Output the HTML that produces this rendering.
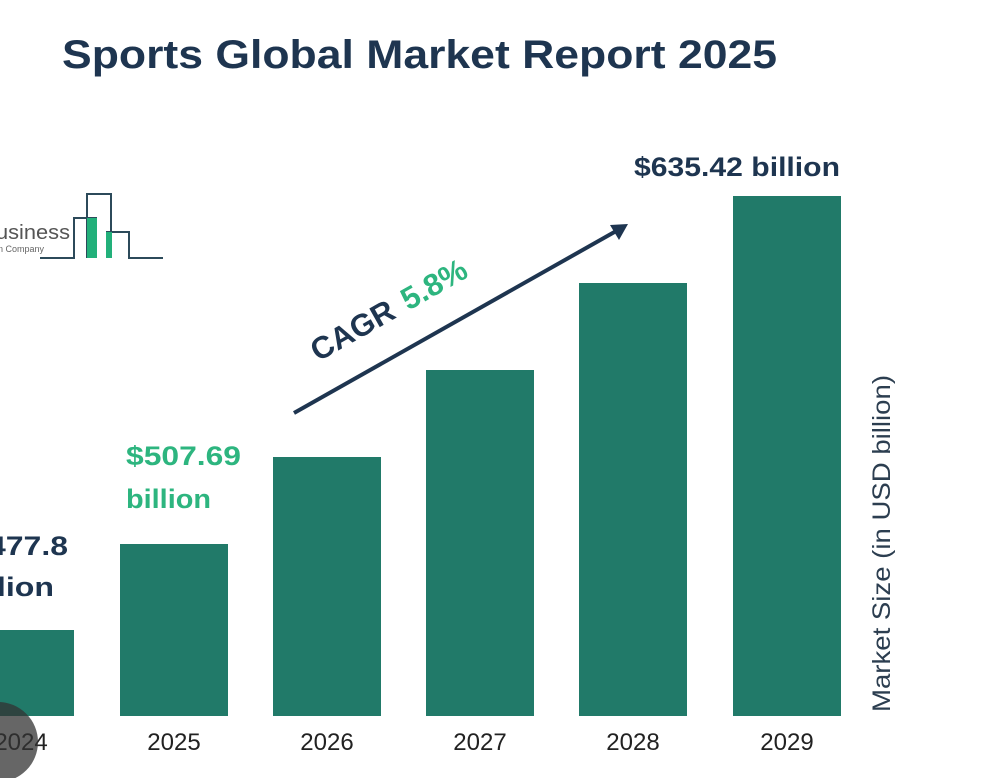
<!DOCTYPE html>
<html><head><style>
body{margin:0;width:982px;height:778px;background:#fff;overflow:hidden;font-family:"Liberation Sans",sans-serif;}
</style></head><body>
<svg width="982" height="778" xmlns="http://www.w3.org/2000/svg" font-family="Liberation Sans, sans-serif">
<text x="62" y="68" font-size="40" font-weight="bold" fill="#1e3550" textLength="715" lengthAdjust="spacingAndGlyphs">Sports Global Market Report 2025</text>
<!-- logo -->
<text x="-4" y="239" font-size="20" fill="#555" textLength="74" lengthAdjust="spacingAndGlyphs">usiness</text>
<text x="-2" y="252" font-size="9" fill="#666">n Company</text>
<g fill="none" stroke="#2c4a5a" stroke-width="2">
<polyline points="40,258 74,258 74,218 87,218 87,194 111,194 111,232 129,232 129,258 163,258"/>
<line x1="87" y1="218" x2="97" y2="218"/><line x1="87" y1="218" x2="87" y2="258"/><line x1="111" y1="232" x2="106" y2="232"/>
</g>
<rect x="87" y="218" width="10" height="40" fill="#22b07a"/>
<rect x="106" y="232" width="6" height="26" fill="#22b07a"/>
<g fill="#217a69">
<rect x="0" y="630" width="74" height="86"/>
<rect x="120" y="544" width="108" height="172"/>
<rect x="273" y="457" width="108" height="259"/>
<rect x="426" y="370" width="108" height="346"/>
<rect x="579" y="283" width="108" height="433"/>
<rect x="733" y="196" width="108" height="520"/>
</g>
<g font-size="24" fill="#222" text-anchor="middle">
<text x="21" y="750">2024</text><text x="174" y="750">2025</text><text x="327" y="750">2026</text>
<text x="480" y="750">2027</text><text x="633" y="750">2028</text><text x="787" y="750">2029</text>
</g>
<circle cx="-2" cy="742" r="40" fill="#333" opacity="0.75"/>
<g font-size="27" font-weight="bold" fill="#1e3550">
<text x="-12" y="555" textLength="80" lengthAdjust="spacingAndGlyphs">477.8</text><text x="-12" y="596" textLength="66" lengthAdjust="spacingAndGlyphs">llion</text>
<text x="634" y="176" textLength="206" lengthAdjust="spacingAndGlyphs">$635.42 billion</text>
</g>
<g font-size="27" font-weight="bold" fill="#2db57f">
<text x="126" y="465" textLength="115" lengthAdjust="spacingAndGlyphs">$507.69</text><text x="126" y="508" textLength="85" lengthAdjust="spacingAndGlyphs">billion</text>
</g>
<line x1="294" y1="413" x2="618" y2="230" stroke="#1e3550" stroke-width="4"/>
<polygon points="628,224 610,225 619,240" fill="#1e3550"/>
<text transform="translate(318,362) rotate(-29.5)" font-size="31" font-weight="bold" fill="#1e3550">CAGR <tspan fill="#2db57f" dx="4">5.8%</tspan></text>
<text transform="translate(890,712) rotate(-90)" font-size="25" fill="#2c3e50" textLength="337" lengthAdjust="spacingAndGlyphs">Market Size (in USD billion)</text>
</svg>
</body></html>
